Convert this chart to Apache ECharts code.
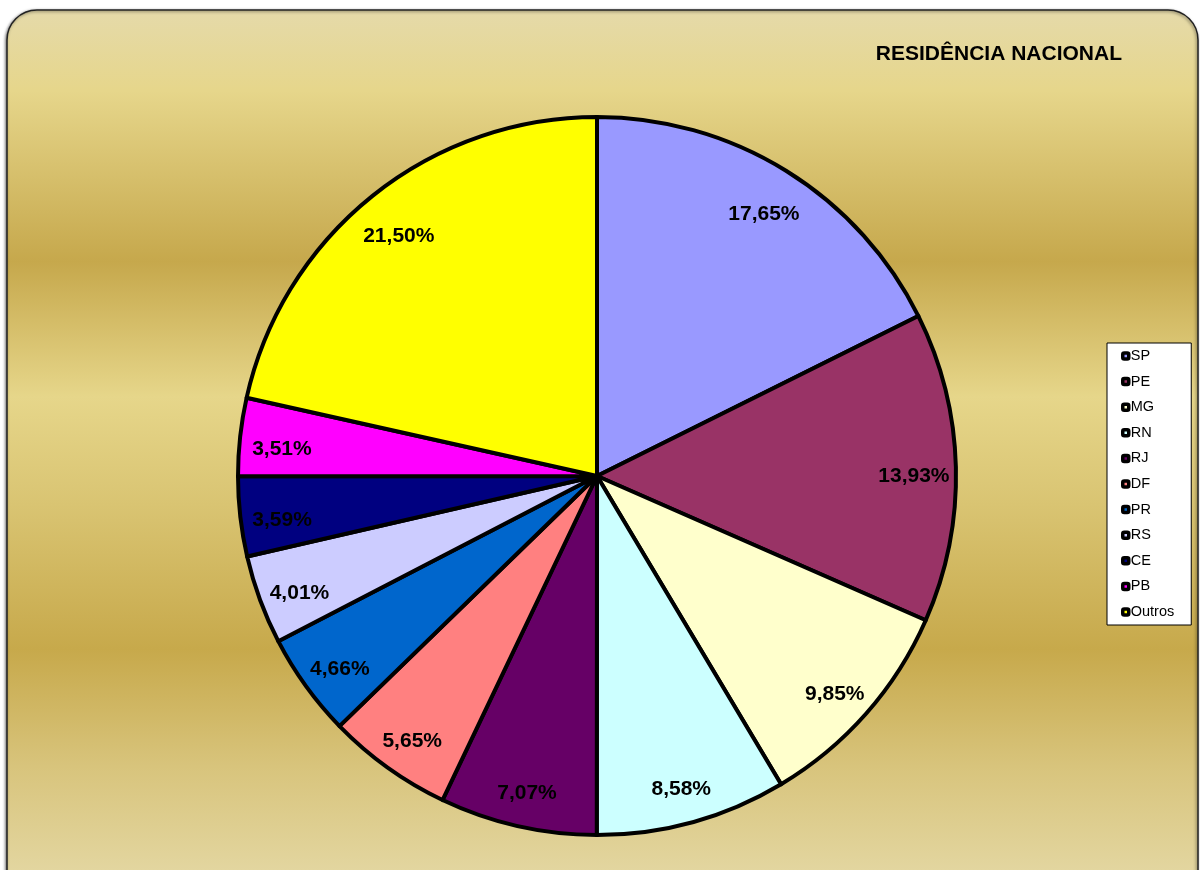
<!DOCTYPE html>
<html>
<head>
<meta charset="utf-8" />
<title>Residência Nacional</title>
<script src="https://cdn.jsdelivr.net/npm/echarts@6/dist/echarts.min.js"></script>
<style>
  html, body { margin: 0; padding: 0; background: #fff; }
  #main { width: 1200px; height: 870px; }
</style>
</head>
<body>
<div id="main"></div>
<script>
// dados
var estados = ['SP', 'PE', 'MG', 'RN', 'RJ', 'DF', 'PR', 'RS', 'CE', 'PB', 'Outros'];
var percentuais = [17.65, 13.93, 9.85, 8.58, 7.07, 5.65, 4.66, 4.01, 3.59, 3.51, 21.50];
var cores = ['#9999ff', '#993366', '#ffffcc', '#ccffff', '#660066', '#ff8080',
             '#0066cc', '#ccccff', '#000080', '#ff00ff', '#ffff00'];

var myChart = echarts.init(document.getElementById('main'));

var fatias = estados.map(function (n, i) {
  return { name: n, value: percentuais[i], itemStyle: { color: cores[i] } };
});
var rotulos = estados.map(function (n, i) {
  return { name: n, value: percentuais[i] };
});

function fmt(p) {
  return p.value.toFixed(2).replace('.', ',') + '%';
}

myChart.setOption({
  animation: false,
  graphic: [{
    type: 'rect',
    z: -10,
    shape: { x: 7, y: 10, width: 1191, height: 900, r: 30 },
    style: {
      fill: new echarts.graphic.LinearGradient(0, 0, 0, 1, [
        { offset: 0, color: '#e5daaa' },
        { offset: 0.09, color: '#e6d68b' },
        { offset: 0.28, color: '#c6a84c' },
        { offset: 0.43, color: '#e6d68a' },
        { offset: 0.55, color: '#d9c472' },
        { offset: 0.71, color: '#c7a94b' },
        { offset: 0.84, color: '#d8c47c' },
        { offset: 0.97, color: '#e4d8a4' },
        { offset: 1, color: '#e4d8a4' }
      ]),
      stroke: '#222',
      lineWidth: 1.5,
      shadowBlur: 3,
      shadowOffsetX: -1,
      shadowOffsetY: 1,
      shadowColor: 'rgba(0,0,0,0.5)'
    }
  }],
  title: {
    text: 'RESIDÊNCIA NACIONAL',
    right: 78,
    top: 44,
    padding: 0,
    textStyle: {
      fontFamily: 'Liberation Sans, Arial, sans-serif',
      fontSize: 21,
      fontWeight: 'bold',
      color: '#000'
    }
  },
  legend: {
    orient: 'vertical',
    left: 1107,
    top: 343,
    padding: [5, 17, 5, 14],
    backgroundColor: '#fff',
    borderColor: '#000',
    borderWidth: 1,
    itemWidth: 6,
    itemHeight: 6,
    itemGap: 9.6,
    icon: 'roundRect',
    itemStyle: { borderColor: '#000', borderWidth: 3.5 },
    data: estados,
    textStyle: {
      fontFamily: 'Liberation Sans, Arial, sans-serif',
      fontSize: 14.5,
      lineHeight: 16,
      color: '#000',
      padding: [0, 0, 0, -3]
    }
  },
  series: [{
    name: 'Residência',
    type: 'pie',
    center: [597, 476],
    radius: [0, 359],
    startAngle: 90,
    clockwise: true,
    label: { show: false },
    labelLine: { show: false },
    itemStyle: { borderColor: '#000', borderWidth: 4 },
    emphasis: { disabled: true },
    data: fatias
  }, {
    name: 'Rotulos',
    type: 'pie',
    center: [597, 484],
    radius: [0, 628],
    startAngle: 90,
    clockwise: true,
    silent: true,
    legendHoverLink: false,
    itemStyle: { color: 'rgba(0,0,0,0)', borderWidth: 0 },
    label: {
      show: true,
      position: 'inside',
      formatter: fmt,
      fontFamily: 'Liberation Sans, Arial, sans-serif',
      fontSize: 21,
      fontWeight: 'bold',
      color: '#000'
    },
    labelLine: { show: false },
    emphasis: { disabled: true },
    data: rotulos
  }]
});

window.onresize = function () {
  myChart.resize();
};
</script>
</body>
</html>
